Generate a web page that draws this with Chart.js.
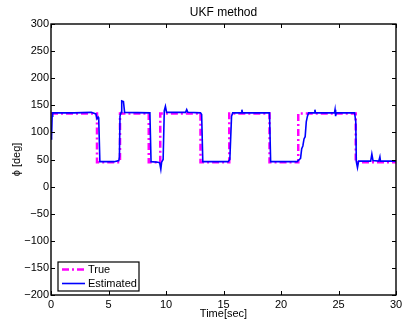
<!DOCTYPE html>
<html>
<head>
<meta charset="utf-8">
<script src="https://cdn.jsdelivr.net/npm/chart.js@4/dist/chart.umd.min.js"></script>
<style>
  html, body { margin: 0; padding: 0; background: #fff; }
  #wrap { width: 402px; height: 321px; }
</style>
</head>
<body>
<div id="wrap"><canvas id="ukf-chart" width="402" height="321"></canvas></div>
<script>
// true roll angle (square wave) and UKF estimate
const trueTime  = [0, 4, 4, 6, 6, 8.5, 8.5, 9.5, 9.5, 13, 13, 15.5, 15.5, 19, 19, 21.5, 21.5, 26.5, 26.5, 30];
const trueAngle = [135, 135, 45, 45, 135, 135, 45, 45, 135, 135, 45, 45, 135, 135, 45, 45, 135, 135, 45, 45];

const estTime  = [0, 0.05, 0.1, 0.15, 0.3, 2, 3.5, 3.9, 4.0, 4.1, 4.15, 4.25, 5.5, 5.9, 5.95, 6.0, 6.1, 6.15, 6.3, 6.4,
                  8.6, 8.7, 9.3, 9.45, 9.55, 9.62, 9.75, 9.85, 9.95, 10.05, 11.7, 11.8, 11.9, 13.0, 13.1, 13.2,
                  15.4, 15.55, 15.7, 15.8, 16.55, 16.6, 16.65, 19.0, 19.1, 21.4, 21.6, 21.7, 21.8, 21.9, 22.0, 22.1,
                  22.2, 22.3, 22.4, 22.9, 22.95, 23.0, 24.65, 24.7, 24.75, 24.8, 26.4, 26.5, 26.55, 26.65, 26.75,
                  27.8, 27.9, 28.0, 28.5, 28.6, 28.65, 30];
const estAngle = [88, 92, 130, 136, 136, 136, 137, 134, 125, 128, 125, 46, 46, 48, 55, 130, 137, 158, 157, 137,
                  136, 46, 45, 44, 32, 45, 50, 140, 148, 137, 137, 142, 137, 136, 133, 46,
                  46, 50, 130, 136, 136, 142, 136, 136, 46, 46, 50, 52, 70, 75, 88, 92,
                  120, 130, 136, 136, 142, 136, 136, 142, 130, 136, 136, 120, 46, 35, 47,
                  47, 60, 48, 47, 55, 47, 47];

const xTicks = [0, 5, 10, 15, 20, 25, 30];
const yTicks = [-200, -150, -100, -50, 0, 50, 100, 150, 200, 250, 300];

const font = { family: "'Liberation Sans', Arial, sans-serif", size: 11, lineHeight: 1.2 };
const titleFont = { family: "'Liberation Sans', Arial, sans-serif", size: 12, lineHeight: 1.2 };

const toPoints = (xs, ys) => xs.map((x, i) => ({ x: x, y: ys[i] }));

const minusLabel = (v) => (v < 0 ? '\u2212' + Math.abs(v) : String(v));

// matlab-ish frame: box on all four sides, ticks pointing inward, legend in the lower left
const framePlugin = {
  id: 'frame',
  afterDatasetsDraw(chart) {
    const { ctx, chartArea: a, scales } = chart;
    const len = 4;
    ctx.save();
    ctx.strokeStyle = '#000';
    ctx.lineWidth = 1;
    ctx.beginPath();
    xTicks.forEach((t) => {
      const px = Math.round(scales.x.getPixelForValue(t)) + 0.5;
      ctx.moveTo(px, a.bottom); ctx.lineTo(px, a.bottom - len);
      ctx.moveTo(px, a.top); ctx.lineTo(px, a.top + len);
    });
    yTicks.forEach((t) => {
      const py = Math.round(scales.y.getPixelForValue(t)) + 0.5;
      ctx.moveTo(a.left, py); ctx.lineTo(a.left + len, py);
      ctx.moveTo(a.right, py); ctx.lineTo(a.right - len, py);
    });
    ctx.stroke();
    ctx.lineWidth = 1.4;
    ctx.strokeRect(a.left, a.top, a.right - a.left, a.bottom - a.top);

    // legend box
    const bx = a.left + 7, by = a.bottom - 33, bw = 81, bh = 29;
    ctx.fillStyle = '#fff';
    ctx.fillRect(bx, by, bw, bh);
    ctx.lineWidth = 1.2;
    ctx.strokeRect(bx, by, bw, bh);
    ctx.font = "11px 'Liberation Sans', Arial, sans-serif";
    ctx.textBaseline = 'middle';
    ctx.textAlign = 'left';
    chart.data.datasets.forEach((ds, i) => {
      const y = by + 7.5 + i * 14;
      ctx.strokeStyle = ds.borderColor;
      ctx.lineWidth = ds.borderWidth;
      ctx.setLineDash(ds.borderDash || []);
      ctx.beginPath();
      ctx.moveTo(bx + 4, y); ctx.lineTo(bx + 27, y);
      ctx.stroke();
      ctx.setLineDash([]);
      ctx.fillStyle = '#000';
      ctx.fillText(ds.label, bx + 30, y + 0.5);
    });
    ctx.restore();
  }
};

new Chart(document.getElementById('ukf-chart').getContext('2d'), {
  type: 'line',
  data: {
    datasets: [
      {
        label: 'True',
        data: toPoints(trueTime, trueAngle),
        borderColor: '#ff00ff',
        borderWidth: 2.5,
        borderDash: [7, 3, 2, 3],
        pointRadius: 0,
        tension: 0,
        order: 2,
      },
      {
        label: 'Estimated',
        data: toPoints(estTime, estAngle),
        borderColor: '#0000ff',
        borderWidth: 1.6,
        pointRadius: 0,
        tension: 0,
        order: 1,
      },
    ],
  },
  options: {
    responsive: false,
    animation: false,
    layout: { padding: { left: 0, right: 6, top: 0, bottom: 0 } },
    plugins: {
      legend: { display: false },
      title: { display: false },
      tooltip: { enabled: false },
    },
    scales: {
      x: {
        type: 'linear',
        position: 'bottom',
        min: 0,
        max: 30,
        grid: { display: false, drawTicks: false },
        border: { display: false },
        ticks: { stepSize: 5, color: '#000', font: font, padding: 3, maxRotation: 0, callback: minusLabel },
        title: { display: true, text: 'Time[sec]', color: '#000', font: font, padding: { top: 0, bottom: 0 } },
        afterFit(scale) { scale.height = 26; scale.paddingLeft = 0; scale.paddingRight = 0; },
      },
      top: {
        type: 'linear',
        position: 'top',
        min: 0,
        max: 30,
        grid: { display: false, drawTicks: false },
        border: { display: false },
        ticks: { display: false },
        title: { display: true, text: 'UKF method', color: '#000', font: titleFont, padding: { top: 5, bottom: 0 } },
        afterFit(scale) { scale.height = 24; scale.paddingLeft = 0; scale.paddingRight = 0; },
      },
      y: {
        type: 'linear',
        position: 'left',
        min: -200,
        max: 300,
        grid: { display: false, drawTicks: false },
        border: { display: false },
        ticks: { stepSize: 50, color: '#000', font: font, padding: 2, callback: minusLabel },
        title: { display: true, text: '\u03d5 [deg]', color: '#000', font: font, padding: { top: 10.4, bottom: 0 } },
        afterFit(scale) { scale.width = 51; scale.paddingTop = 0; scale.paddingBottom = 0; },
      },
    },
  },
  plugins: [framePlugin],
});
</script>
</body>
</html>
